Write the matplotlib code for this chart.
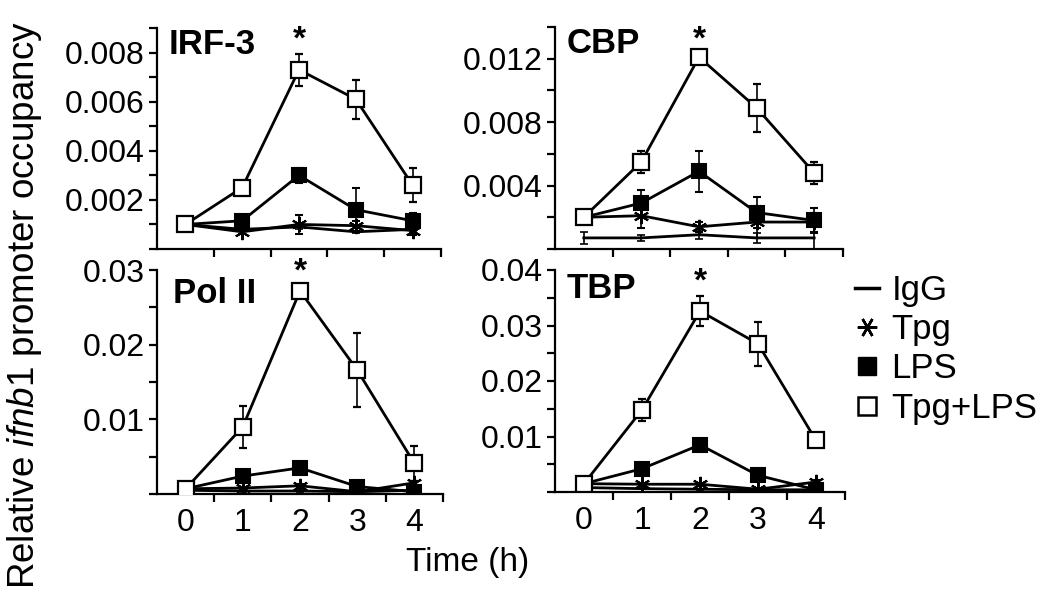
import matplotlib
matplotlib.use("Agg")
import matplotlib.pyplot as plt
from matplotlib.lines import Line2D
from matplotlib.ticker import MultipleLocator, FixedLocator

plt.rcParams['font.family'] = ['Liberation Sans', 'DejaVu Sans']
plt.rcParams['mathtext.fontset'] = 'custom'
plt.rcParams['mathtext.rm'] = 'Liberation Sans'
plt.rcParams['mathtext.it'] = 'Liberation Sans:italic'

# ---------------- data ----------------
time_h = [0, 1, 2, 3, 4]
series_names = ["IgG", "Tpg", "LPS", "Tpg+LPS"]

irf3_igg = [0.00100, 0.00080, 0.00090, 0.00070, 0.00080]
irf3_igg_err = [0.00005, 0.00005, 0.00010, 0.00005, 0.00010]
irf3_tpg = [0.00100, 0.00070, 0.00100, 0.00095, 0.00075]
irf3_tpg_err = [0.00005, 0.00010, 0.00040, 0.00020, 0.00020]
irf3_lps = [0.00100, 0.00115, 0.00300, 0.00160, 0.00115]
irf3_lps_err = [0.00005, 0.00020, 0.00030, 0.00090, 0.00030]
irf3_tpglps = [0.00100, 0.00250, 0.00730, 0.00610, 0.00260]
irf3_tpglps_err = [0.00005, 0.00010, 0.00065, 0.00080, 0.00070]

cbp_igg = [0.0007, 0.0007, 0.0009, 0.0007, 0.0007]
cbp_igg_err = [0.0004, 0.0002, 0.0003, 0.0003, 0.0008]
cbp_tpg = [0.0020, 0.0021, 0.0014, 0.0017, 0.0017]
cbp_tpg_err = [0.0001, 0.0008, 0.0003, 0.0010, 0.0006]
cbp_lps = [0.0020, 0.0029, 0.0049, 0.0023, 0.0018]
cbp_lps_err = [0.0001, 0.0008, 0.0013, 0.0010, 0.0008]
cbp_tpglps = [0.0020, 0.0055, 0.0121, 0.0089, 0.0048]
cbp_tpglps_err = [0.0001, 0.0007, 0.0002, 0.0015, 0.0007]

pol2_igg = [0.0005, 0.0004, 0.0004, 0.0003, 0.0005]
pol2_igg_err = [0.0001, 0.0001, 0.0001, 0.0001, 0.0001]
pol2_tpg = [0.0007, 0.0008, 0.0011, 0.0003, 0.0015]
pol2_tpg_err = [0.0001, 0.0002, 0.0003, 0.0002, 0.0003]
pol2_lps = [0.0007, 0.0024, 0.0035, 0.0010, 0.0003]
pol2_lps_err = [0.0001, 0.0003, 0.0003, 0.0003, 0.0002]
pol2_tpglps = [0.0007, 0.0090, 0.0272, 0.0166, 0.0041]
pol2_tpglps_err = [0.0002, 0.0028, 0.0003, 0.0050, 0.0023]

tbp_igg = [0.0008, 0.0006, 0.0005, 0.0004, 0.0004]
tbp_igg_err = [0.0001, 0.0001, 0.0001, 0.0001, 0.0001]
tbp_tpg = [0.0015, 0.0014, 0.0014, 0.0005, 0.0018]
tbp_tpg_err = [0.0002, 0.0003, 0.0003, 0.0003, 0.0003]
tbp_lps = [0.0015, 0.0042, 0.0085, 0.0030, 0.0004]
tbp_lps_err = [0.0002, 0.0004, 0.0004, 0.0004, 0.0002]
tbp_tpglps = [0.0015, 0.0148, 0.0326, 0.0267, 0.0093]
tbp_tpglps_err = [0.0003, 0.0020, 0.0027, 0.0040, 0.0003]

panel_titles = ["IRF-3", "CBP", "Pol II", "TBP"]
panel_ymax = [0.009, 0.014, 0.030, 0.040]
panel_major = [0.002, 0.004, 0.010, 0.010]
panel_minor = [0.001, 0.002, 0.005, 0.005]
panel_ticklabels = [["0.002", "0.004", "0.006", "0.008"],
                    ["0.004", "0.008", "0.012"],
                    ["0.01", "0.02", "0.03"],
                    ["0.01", "0.02", "0.03", "0.04"]]
star_time = 2
star_y = [0.0085, 0.0132, 0.0297, 0.0378]

panel_data = [
    [(irf3_igg, irf3_igg_err), (irf3_tpg, irf3_tpg_err), (irf3_lps, irf3_lps_err), (irf3_tpglps, irf3_tpglps_err)],
    [(cbp_igg, cbp_igg_err), (cbp_tpg, cbp_tpg_err), (cbp_lps, cbp_lps_err), (cbp_tpglps, cbp_tpglps_err)],
    [(pol2_igg, pol2_igg_err), (pol2_tpg, pol2_tpg_err), (pol2_lps, pol2_lps_err), (pol2_tpglps, pol2_tpglps_err)],
    [(tbp_igg, tbp_igg_err), (tbp_tpg, tbp_tpg_err), (tbp_lps, tbp_lps_err), (tbp_tpglps, tbp_tpglps_err)],
]

# ---------------- layout ----------------
W, H = 1050, 595
fig = plt.figure(figsize=(W / 100, H / 100), dpi=100)

def rect(l, r, t, b):
    return [l / W, 1 - b / H, (r - l) / W, (b - t) / H]

rects = [rect(157, 441, 28, 249), rect(555, 843, 27, 249),
         rect(157, 443, 270, 494), rect(555, 845, 270, 492)]
title_pos = [(0.04, 1.0), (0.04, 1.0), (0.055, 0.97), (0.04, 0.99)]

styles = {
    "IgG": dict(marker=None),
    "Tpg": dict(marker=(6, 2, 0), markersize=11, markeredgewidth=1.5,
                markerfacecolor='black', markeredgecolor='black'),
    "LPS": dict(marker='s', markersize=10, markeredgewidth=1.5,
                markerfacecolor='black', markeredgecolor='black'),
    "Tpg+LPS": dict(marker='s', markersize=11, markeredgewidth=1.6,
                    markerfacecolor='white', markeredgecolor='black'),
}

for i in range(4):
    ax = fig.add_axes(rects[i])
    for j, name in enumerate(series_names):
        y, e = panel_data[i][j]
        ax.errorbar(time_h, y, yerr=e, color='black', linewidth=2.0,
                    elinewidth=1.2, capsize=3, capthick=1.2,
                    zorder=2 + j, **styles[name])
    ax.set_xlim(-0.5, 4.5)
    ax.set_ylim(0, panel_ymax[i])
    for s in ['top', 'right']:
        ax.spines[s].set_visible(False)
    for s in ['left', 'bottom']:
        ax.spines[s].set_linewidth(1.6)
    # x ticks: marks at half-integers, labels at integers
    ax.xaxis.set_minor_locator(FixedLocator([0.5, 1.5, 2.5, 3.5, 4.5]))
    ax.xaxis.set_major_locator(FixedLocator(time_h))
    ax.tick_params(axis='x', which='major', length=0, pad=10, labelsize=23)
    ax.tick_params(axis='x', which='minor', length=6, width=1.6, direction='out')
    if i < 2:
        ax.set_xticklabels([])
    else:
        ax.set_xticklabels([str(t) for t in time_h])
    # y ticks
    ymaj = [panel_major[i] * (k + 1) for k in range(len(panel_ticklabels[i]))]
    ax.yaxis.set_major_locator(FixedLocator(ymaj))
    ax.set_yticklabels(panel_ticklabels[i])
    ax.yaxis.set_minor_locator(MultipleLocator(panel_minor[i]))
    ax.tick_params(axis='y', which='both', length=6, width=1.6, direction='out',
                   labelsize=23, pad=3)
    ax.text(title_pos[i][0], title_pos[i][1], panel_titles[i], transform=ax.transAxes,
            fontsize=25, fontweight='bold', ha='left', va='top')
    ax.text(star_time, star_y[i], "*", fontsize=24, fontweight='bold',
            ha='center', va='center', clip_on=False)

fig.text(25 / W, 1 - 305 / H, r"Relative $\it{ifnb1}$ promoter occupancy",
         rotation=90, ha='center', va='center', fontsize=26.5)
fig.text(468 / W, 1 - 563 / H, "Time (h)", ha='center', va='center', fontsize=24)

handles = [
    Line2D([], [], color='black', linewidth=2.5),
    Line2D([], [], linestyle='none', marker=(6, 2, 90), markersize=14,
           markeredgewidth=1.8, color='black'),
    Line2D([], [], linestyle='none', marker='s', markersize=13,
           markerfacecolor='black', markeredgecolor='black'),
    Line2D([], [], linestyle='none', marker='s', markersize=13,
           markerfacecolor='white', markeredgecolor='black', markeredgewidth=1.8),
]
fig.legend(handles, series_names, loc='upper left',
           bbox_to_anchor=(855 / W, 1 - 274 / H), frameon=False,
           fontsize=25, handlelength=0.7, handletextpad=0.35, labelspacing=0.18,
           borderaxespad=0, borderpad=0)

fig.savefig("out.png", dpi=100)
